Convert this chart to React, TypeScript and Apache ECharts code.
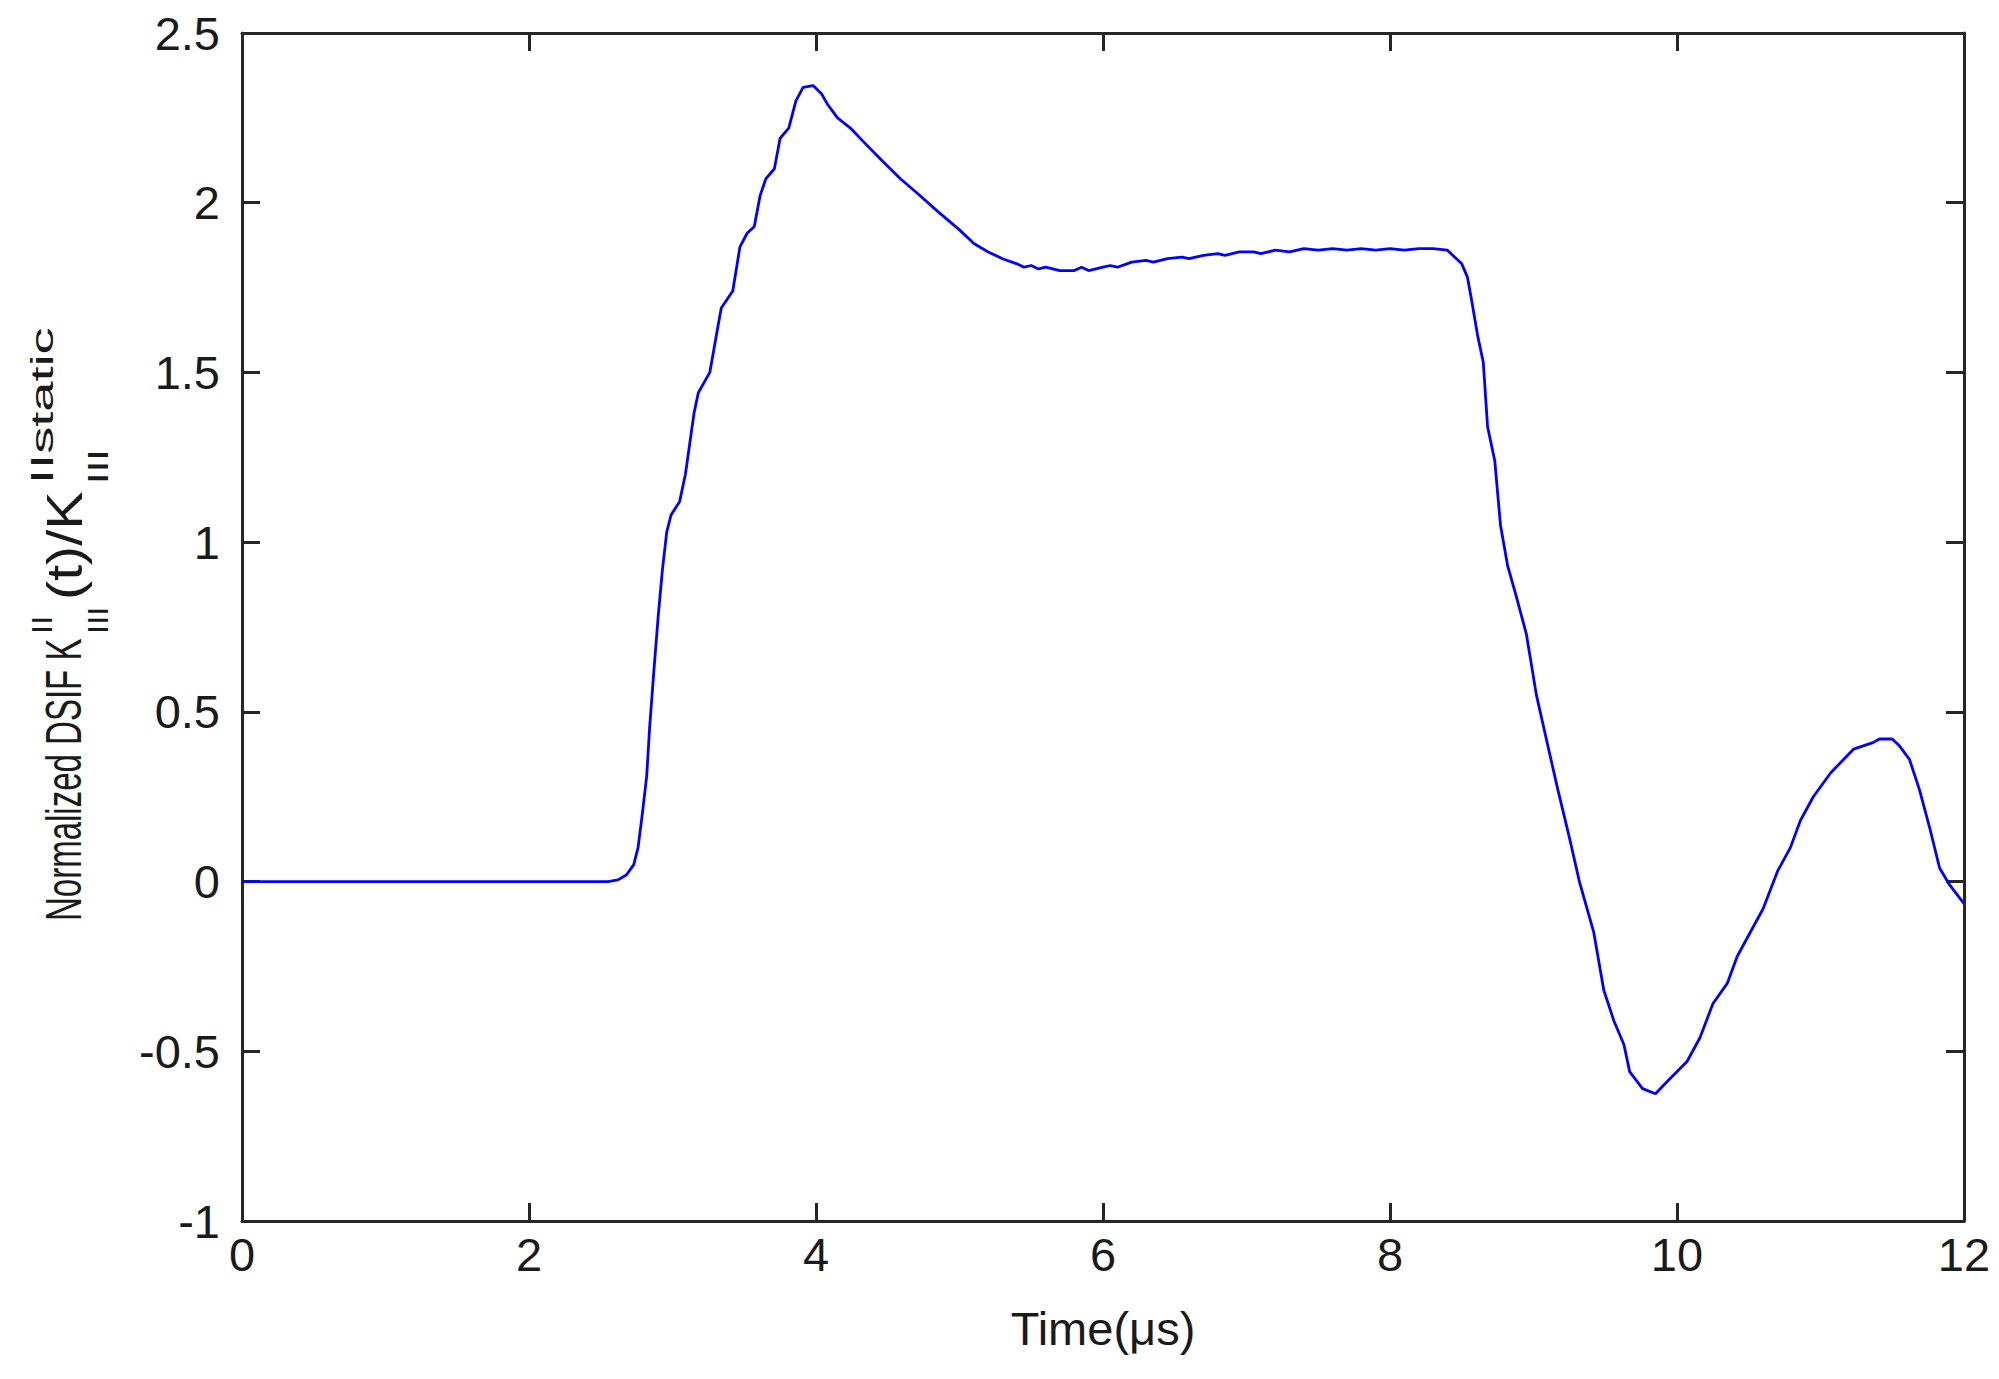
import React, { useEffect, useRef } from "react";
import * as echarts from "echarts";

// Time (µs)
const timeUs: number[] = [
  0, 1, 2, 2.55, 2.62, 2.68, 2.73, 2.76, 2.79, 2.82, 2.84, 2.87, 2.9, 2.93, 2.96, 2.99,
  3.05, 3.09, 3.12, 3.15, 3.18, 3.26, 3.31, 3.34, 3.42, 3.47, 3.52, 3.57, 3.61, 3.65,
  3.71, 3.75, 3.81, 3.86, 3.91, 3.98, 4.04, 4.08, 4.15, 4.24, 4.33, 4.47, 4.59, 4.7,
  4.86, 5.0, 5.1, 5.2, 5.3, 5.4, 5.45, 5.5, 5.55, 5.6, 5.7, 5.8, 5.85, 5.9, 6.0, 6.05,
  6.1, 6.2, 6.3, 6.35, 6.45, 6.55, 6.6, 6.7, 6.8, 6.85, 6.95, 7.05, 7.1, 7.2, 7.3, 7.4,
  7.5, 7.6, 7.7, 7.8, 7.9, 8.0, 8.1, 8.2, 8.3, 8.4, 8.45, 8.5, 8.54, 8.57, 8.61, 8.65,
  8.68, 8.73, 8.77, 8.82, 8.88, 8.95, 9.02, 9.1, 9.17, 9.25, 9.32, 9.42, 9.49, 9.56,
  9.63, 9.67, 9.76, 9.85, 9.93, 10.07, 10.16, 10.25, 10.35, 10.42, 10.51, 10.6, 10.7,
  10.79, 10.86, 10.95, 11.07, 11.23, 11.37, 11.41, 11.5, 11.55, 11.62, 11.69, 11.76,
  11.83, 11.9, 12.0,
];

// Normalized DSIF
const dsifValues: number[] = [
  0, 0, 0, 0, 0.005, 0.02, 0.05, 0.1, 0.2, 0.31, 0.45, 0.62, 0.78, 0.92, 1.03, 1.08,
  1.12, 1.2, 1.29, 1.38, 1.44, 1.5, 1.62, 1.69, 1.74, 1.87, 1.91, 1.93, 2.02, 2.07,
  2.1, 2.19, 2.22, 2.3, 2.34, 2.345, 2.32, 2.29, 2.25, 2.22, 2.18, 2.12, 2.07, 2.03,
  1.97, 1.92, 1.88, 1.855, 1.835, 1.82, 1.81, 1.815, 1.805, 1.81, 1.8, 1.8, 1.81, 1.8, 1.81, 1.815,
  1.81, 1.825, 1.83, 1.825, 1.835, 1.84, 1.835, 1.845, 1.85, 1.845, 1.855, 1.855, 1.85, 1.86, 1.855, 1.865,
  1.86, 1.865, 1.86, 1.865, 1.86, 1.865, 1.86, 1.865, 1.865, 1.86, 1.84, 1.82, 1.78, 1.71, 1.61, 1.53,
  1.34, 1.24, 1.05, 0.93, 0.84, 0.73, 0.55, 0.4, 0.27, 0.13, 0.0, -0.15, -0.32, -0.41,
  -0.48, -0.56, -0.61, -0.625, -0.59, -0.53, -0.46, -0.36, -0.3, -0.22, -0.15, -0.08, 0.03,
  0.1, 0.18, 0.25, 0.32, 0.39, 0.41, 0.42, 0.42, 0.4, 0.36, 0.27, 0.16,
  0.04, -0.01, -0.065,
];

const xMin = 0;
const xMax = 12;
const xStep = 2;
const yMin = -1;
const yMax = 2.5;
const yStep = 0.5;

const FONT = "'Liberation Sans', Arial, sans-serif";
const AXIS_COLOR = "#262626";
const TEXT_COLOR = "#1a1a1a";

export default function App() {
  const ref = useRef<HTMLDivElement>(null);

  useEffect(() => {
    if (!ref.current) return;
    const chart = echarts.init(ref.current, undefined, { renderer: "svg" });

    const points = timeUs.map((t, i) => [t, dsifValues[i]]);

    const axisLine = { show: true, onZero: false, lineStyle: { color: AXIS_COLOR, width: 3 } };
    const axisTick = { show: true, inside: true, length: 18, lineStyle: { color: AXIS_COLOR, width: 3 } };
    const labelStyle = { fontSize: 47, color: TEXT_COLOR, fontFamily: FONT };

    const yLabelPieces = [
      { text: "Normalized DSIF K", x: 64, y: 921, size: 50, sx: 0.66 },
      { text: "II", x: 42, y: 634, size: 30, sx: 1.1 },
      { text: "III", x: 98, y: 634, size: 30, sx: 1.1 },
      { text: "(t)/K", x: 64, y: 600, size: 50, sx: 1.15 },
      { text: "IIstatic", x: 42, y: 484, size: 31, sx: 1.75 },
      { text: "III", x: 98, y: 484, size: 30, sx: 1.4 },
    ];

    chart.setOption({
      animation: false,
      backgroundColor: "#ffffff",
      grid: { left: 242, right: 35, top: 33, bottom: 158, containLabel: false },
      xAxis: [
        {
          type: "value",
          min: xMin,
          max: xMax,
          interval: xStep,
          position: "bottom",
          axisLine,
          axisTick,
          splitLine: { show: false },
          axisLabel: { ...labelStyle, margin: 10 },
          name: "Time(μs)",
          nameLocation: "middle",
          nameGap: 84,
          nameTextStyle: { fontSize: 47, color: TEXT_COLOR, fontFamily: FONT },
        },
        {
          type: "value",
          min: xMin,
          max: xMax,
          interval: xStep,
          position: "top",
          axisLine,
          axisTick,
          splitLine: { show: false },
          axisLabel: { show: false },
        },
      ],
      yAxis: [
        {
          type: "value",
          min: yMin,
          max: yMax,
          interval: yStep,
          position: "left",
          axisLine,
          axisTick,
          splitLine: { show: false },
          axisLabel: { ...labelStyle, margin: 22 },
        },
        {
          type: "value",
          min: yMin,
          max: yMax,
          interval: yStep,
          position: "right",
          axisLine,
          axisTick,
          splitLine: { show: false },
          axisLabel: { show: false },
        },
      ],
      graphic: yLabelPieces.map((p) => ({
        type: "text",
        x: p.x,
        y: p.y,
        rotation: Math.PI / 2,
        scaleX: p.sx,
        scaleY: 1,
        silent: true,
        style: {
          text: p.text,
          fontSize: p.size,
          fontFamily: FONT,
          fill: TEXT_COLOR,
          align: "left",
          textAlign: "left",
          verticalAlign: "middle",
          textVerticalAlign: "middle",
        },
      })),
      series: [
        {
          type: "line",
          data: points,
          xAxisIndex: 0,
          yAxisIndex: 0,
          showSymbol: false,
          symbol: "none",
          smooth: false,
          lineStyle: { color: "#0000ff", width: 2.8 },
          itemStyle: { color: "#0000ff" },
        },
      ],
    });

    return () => {
      chart.dispose();
    };
  }, []);

  return (
    <div
      ref={ref}
      style={{ position: "absolute", left: 0, top: 0, width: 1999, height: 1379, background: "#fff" }}
    />
  );
}
